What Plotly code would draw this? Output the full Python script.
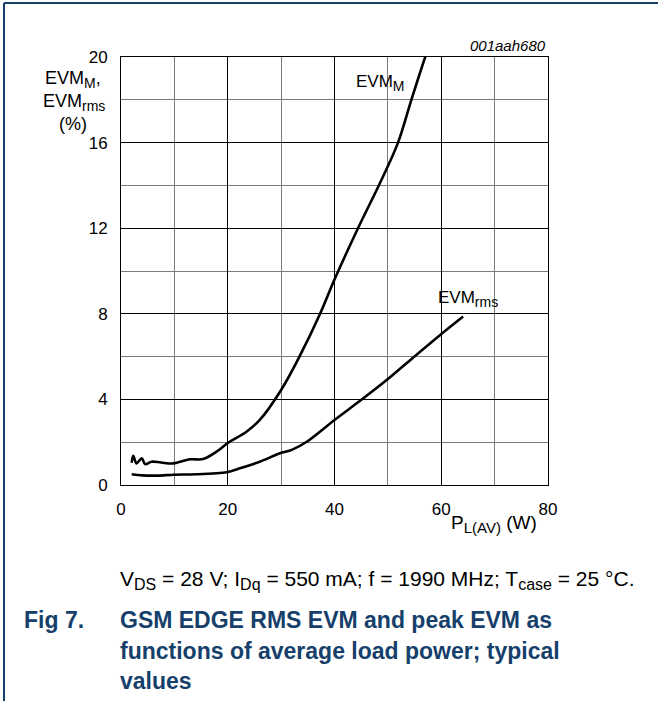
import plotly.graph_objects as go

# EVM_M (peak) curve
evm_m_x = [2.0, 2.3, 2.9, 3.9, 4.5, 5.75, 7.5, 9.8, 12.9, 15.4, 17.9, 20.1, 23.5, 26.0,
           30.0, 33.5, 37.3, 40.0, 44.4, 48.5, 51.9, 54.4, 57.0, 57.3]
evm_m_y = [1.04, 1.37, 1.01, 1.25, 0.98, 1.09, 1.05, 1.01, 1.20, 1.21, 1.56, 1.98, 2.49, 3.04,
           4.44, 6.03, 8.0, 9.6, 12.0, 14.1, 16.0, 18.0, 20.0, 20.2]

# EVM_rms curve
evm_rms_x = [2.0, 4.0, 7.0, 9.8, 14.0, 19.8, 22.3, 26.0, 29.8, 32.0, 34.8, 40.0, 45.4,
             50.0, 55.1, 59.8, 64.1]
evm_rms_y = [0.50, 0.45, 0.44, 0.48, 0.50, 0.60, 0.78, 1.09, 1.48, 1.64, 2.02, 3.04, 4.05,
             4.95, 6.03, 7.01, 7.87]

x_ticks = [0, 20, 40, 60, 80]
y_ticks = [0, 4, 8, 12, 16, 20]

FONT = "Liberation Sans, Arial, sans-serif"
BLUE = "#163f6b"


def sub(t, size):
    return "<sub><span style='font-size:%dpx'>%s</span></sub>" % (size, t)


fig = go.Figure()
fig.add_trace(go.Scatter(x=evm_m_x, y=evm_m_y, mode="lines",
                         line=dict(color="black", width=2.6, shape="spline", smoothing=1.0),
                         showlegend=False))
fig.add_trace(go.Scatter(x=evm_rms_x, y=evm_rms_y, mode="lines",
                         line=dict(color="black", width=2.6, shape="spline", smoothing=0.8),
                         showlegend=False))

fig.update_layout(
    width=658, height=701,
    margin=dict(l=121, r=110, t=57, b=216),
    paper_bgcolor="white", plot_bgcolor="white",
    font=dict(family=FONT, size=16, color="black"),
    xaxis=dict(range=[0, 80], tickvals=x_ticks, ticktext=[str(v) for v in x_ticks],
               showgrid=True, gridcolor="black", gridwidth=1,
               minor=dict(dtick=10, showgrid=True, gridcolor="#7a7a7a", gridwidth=1),
               showline=True, linecolor="black", linewidth=1, mirror=True,
               ticks="outside", ticklen=9, tickcolor="rgba(0,0,0,0)",
               zeroline=False, tickfont=dict(size=17)),
    yaxis=dict(range=[0, 20], tickvals=y_ticks, ticktext=[str(v) for v in y_ticks],
               showgrid=True, gridcolor="black", gridwidth=1,
               minor=dict(dtick=2, showgrid=True, gridcolor="#7a7a7a", gridwidth=1),
               showline=True, linecolor="black", linewidth=1, mirror=True,
               ticks="outside", ticklen=9, tickcolor="rgba(0,0,0,0)",
               zeroline=False, tickfont=dict(size=17)),
)


def px_x(p):
    return (p - 121) / 427.0


def px_y(p):
    return (485 - p) / 428.0


ann = []


def add(text, x, y, size=16, xanchor="center", yanchor="middle", color="black", family=FONT):
    ann.append(dict(text=text, x=px_x(x), y=px_y(y), xref="paper", yref="paper",
                    showarrow=False, xanchor=xanchor, yanchor=yanchor,
                    font=dict(size=size, color=color, family=family)))


add("<i>001aah680</i>", 548, 45, size=15, xanchor="right")
add("EVM" + sub("M", 14) + ",", 73, 80, size=18)
add("EVM" + sub("rms", 14), 74, 102, size=18)
add("(%)", 73, 124, size=18)
add("P" + sub("L(AV)", 15) + " (W)", 494, 524, size=19)
add("EVM" + sub("M", 14), 380, 83, size=17)
add("EVM" + sub("rms", 14), 468, 299, size=17)
add("V" + sub("DS", 16) + " = 28 V; I" + sub("Dq", 16) + " = 550 mA; f = 1990 MHz; T"
    + sub("case", 16) + " = 25 °C.", 118, 580, size=21, xanchor="left")
add("<b>Fig 7.</b>", 22, 620, size=23, xanchor="left", color=BLUE)
add("<b>GSM EDGE RMS EVM and peak EVM as</b>", 118, 620, size=23, xanchor="left", color=BLUE)
add("<b>functions of average load power; typical</b>", 118, 651, size=23, xanchor="left",
    color=BLUE)
add("<b>values</b>", 118, 681, size=23, xanchor="left", color=BLUE)
fig.update_layout(annotations=ann)

# page frame lines
fig.add_shape(type="line", xref="paper", yref="paper", x0=px_x(4), x1=px_x(660),
              y0=px_y(3), y1=px_y(3), line=dict(color=BLUE, width=2))
fig.add_shape(type="line", xref="paper", yref="paper", x0=px_x(4), x1=px_x(4),
              y0=px_y(3), y1=px_y(703), line=dict(color=BLUE, width=2))

fig.write_html("out.html", config={"displayModeBar": False},
               post_script="document.body.style.margin='0px';document.body.style.overflow='hidden';")
